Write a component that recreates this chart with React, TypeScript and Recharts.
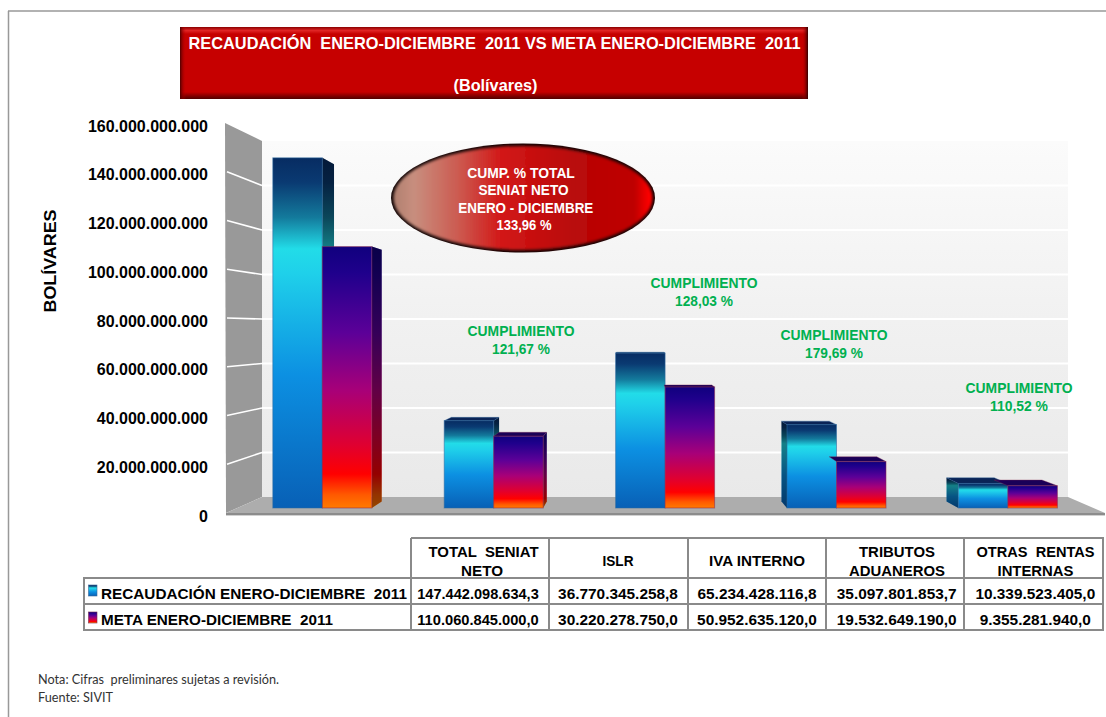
import React from 'react';
import { BarChart, Bar, XAxis, YAxis, CartesianGrid } from 'recharts';

const categories = ['TOTAL  SENIAT NETO', 'ISLR', 'IVA INTERNO', 'TRIBUTOS ADUANEROS', 'OTRAS  RENTAS INTERNAS'];
const recaudacion = [147442098634.3, 36770345258.8, 65234428116.8, 35097801853.7, 10339523405.0];
const meta = [110060845000.0, 30220278750.0, 50952635120.0, 19532649190.0, 9355281940.0];
const yTicks = [0, 20e9, 40e9, 60e9, 80e9, 100e9, 120e9, 140e9, 160e9];
const seriesNames = ['RECAUDACIÓN ENERO-DICIEMBRE  2011', 'META ENERO-DICIEMBRE  2011'];
const cumplimiento = ['121,67 %', '128,03 %', '179,69 %', '110,52 %'];
const titleLines = ['RECAUDACIÓN  ENERO-DICIEMBRE  2011 VS META ENERO-DICIEMBRE  2011', '(Bolívares)'];
const ovalLines = ['CUMP. % TOTAL', 'SENIAT NETO', 'ENERO - DICIEMBRE', '133,96 %'];
const notes = ['Nota: Cifras  preliminares sujetas a revisión.', 'Fuente: SIVIT'];

const data = categories.map((category, i) => ({ category, recaudacion: recaudacion[i], meta: meta[i] }));

const W = 1106;
const H = 717;
const SANS = '"Liberation Sans", Arial, sans-serif';
const VP = { x: 639, y: 330 };
const D = 0.037;
const PLOT_TOP = 128;
const PLOT_BOTTOM = 508;

const backPt = (x: number, y: number): [number, number] => [x + (VP.x - x) * D, y + (VP.y - y) * D];
const pts = (a: [number, number][]) => a.map((p) => p.join(',')).join(' ');
const wallBackY = (y: number) => 497 - ((PLOT_BOTTOM - y) * 356) / (PLOT_BOTTOM - PLOT_TOP);
const wallFrontY = (y: number) => 513 - ((PLOT_BOTTOM - y) * 390) / (PLOT_BOTTOM - PLOT_TOP);

const fmtAxis = (v: number) => String(Math.round(v)).replace(/\B(?=(\d{3})+(?!\d))/g, '.');
const fmtValue = (v: number) => {
  const [a, b] = v.toFixed(1).split('.');
  return a.replace(/\B(?=(\d{3})+(?!\d))/g, '.') + ',' + b;
};

const Bar3D = (grad: string, topFill: string, edge: string, first: boolean) => (props: any) => {
  const { x, y, width, height } = props;
  if (!height) return null;
  const r = x + width;
  const b = y + height;
  const side = (sx: number) => {
    const poly = pts([[sx, y], backPt(sx, y), backPt(sx, b), [sx, b]]);
    return (
      <g>
        <polygon points={poly} fill={`url(#${grad})`} />
        <polygon points={poly} fill="#000" fillOpacity={0.42} />
      </g>
    );
  };
  return (
    <g>
      {r < VP.x && side(r)}
      {first && x > VP.x && side(x)}
      {y > VP.y && <polygon points={pts([[x, y], [r, y], backPt(r, y), backPt(x, y)])} fill={topFill} stroke={edge} strokeOpacity={0.5} strokeWidth={0.7} />}
      <rect x={x} y={y} width={width} height={height} fill={`url(#${grad})`} stroke={edge} strokeOpacity={0.55} strokeWidth={1} />
    </g>
  );
};

const YTick = (props: any) => {
  const { y, payload } = props;
  return (
    <text x={208} y={wallFrontY(y) + 8.5} textAnchor="end" fontFamily={SANS} fontWeight="bold" fontSize={16} fill="#000">
      {fmtAxis(payload.value)}
    </text>
  );
};

const GridLine = (props: any) => {
  const { y1 } = props;
  if (Math.abs(y1 - PLOT_BOTTOM) < 1 || Math.abs(y1 - PLOT_TOP) < 1) return <g />;
  const by = wallBackY(y1);
  return (
    <g>
      <line x1={227} y1={wallFrontY(y1)} x2={262} y2={by} stroke="#fff" strokeWidth={1.6} />
      <line x1={262} y1={by} x2={1068} y2={by} stroke="#fff" strokeWidth={2} />
    </g>
  );
};

const T = ({ x, y, len, size = 15.4, anchor = 'middle', fill = '#000', weight = 'bold', family = SANS, children }: any) => (
  <text
    x={x}
    y={y}
    textAnchor={anchor}
    fontFamily={family}
    fontWeight={weight}
    fontSize={size}
    fill={fill}
    style={{ whiteSpace: 'pre' }}
    {...(len ? { textLength: len, lengthAdjust: 'spacingAndGlyphs' } : {})}
  >
    {children}
  </text>
);

const colLines = [411, 549, 688, 826, 964, 1103];
const colCenters = [478, 618, 757, 896.7, 1035.3];
const headerRows = [
  [{ t: 'TOTAL  SENIAT', x: 483.5, y: 557, len: 110 }, { t: 'NETO', x: 482, y: 575.5, len: 42 }],
  [{ t: 'ISLR', x: 618, y: 566, len: 31 }],
  [{ t: 'IVA INTERNO', x: 757, y: 566, len: 96 }],
  [{ t: 'TRIBUTOS', x: 897, y: 557, len: 76 }, { t: 'ADUANEROS', x: 897, y: 575.5, len: 96 }],
  [{ t: 'OTRAS  RENTAS', x: 1035.5, y: 557, len: 118 }, { t: 'INTERNAS', x: 1035.5, y: 575.5, len: 76 }],
];

const Table = () => (
  <g>
    <g stroke="#8A8A8A" strokeWidth={2}>
      <line x1={411} y1={538} x2={1104} y2={538} />
      <line x1={83} y1={578} x2={1104} y2={578} />
      <line x1={83} y1={604} x2={1104} y2={604} />
      <line x1={83} y1={630} x2={1104} y2={630} />
      <line x1={84} y1={578} x2={84} y2={630} />
      {colLines.map((x) => (
        <line key={x} x1={x} y1={538} x2={x} y2={630} />
      ))}
    </g>
    {headerRows.map((rows) =>
      rows.map((r) => (
        <T key={r.t} x={r.x} y={r.y} len={r.len} size={15}>
          {r.t}
        </T>
      )),
    )}
    <rect x={88.5} y={585} width={8.5} height={11} fill="url(#gRec)" stroke="#3a6a9a" strokeWidth={0.6} />
    <rect x={88.5} y={612} width={8.5} height={11} fill="url(#gMeta)" stroke="#7a2a50" strokeWidth={0.6} />
    <T x={101} y={598.5} anchor="start" len={306} size={15}>{seriesNames[0]}</T>
    <T x={101} y={625} anchor="start" len={232} size={15}>{seriesNames[1]}</T>
    {recaudacion.map((v, i) => (
      <T key={i} x={colCenters[i]} y={598.5} len={i === 0 ? 121.5 : undefined}>{fmtValue(v)}</T>
    ))}
    {meta.map((v, i) => (
      <T key={i} x={colCenters[i]} y={625} len={i === 0 ? 121.5 : undefined}>{fmtValue(v)}</T>
    ))}
  </g>
);

const Title = () => (
  <g>
    <rect x={180} y={27} width={628} height={72} fill="#C60000" />
    <rect x={180} y={27} width={628} height={7} fill="url(#gTitleTop)" />
    <rect x={180} y={92} width={628} height={7} fill="url(#gTitleBottom)" />
    <rect x={180} y={27} width={6} height={72} fill="url(#gTitleLeft)" />
    <rect x={802} y={27} width={6} height={72} fill="url(#gTitleRight)" />
    <T x={188.5} y={48.5} anchor="start" size={17} fill="#fff" len={612}>{titleLines[0]}</T>
    <T x={495.5} y={90.5} size={16.5} fill="#fff" len={84}>{titleLines[1]}</T>
  </g>
);

const ovalCenters = [521, 523.5, 525.8, 524];
const ovalWidths = [107.7, 90, 135, 55];

const Oval = () => (
  <g>
    <ellipse cx={523} cy={198} rx={132} ry={54.5} fill="#120505" />
    <ellipse cx={523} cy={198} rx={129.5} ry={52} fill="url(#gOval)" filter="url(#fSoft)" />
    {ovalLines.map((l, i) => (
      <T key={l} x={ovalCenters[i]} y={177.8 + i * 17.4} size={14.5} fill="#fff" len={ovalWidths[i]}>{l}</T>
    ))}
  </g>
);

const Callouts = () => (
  <g>
    {cumplimiento.map((c, i) => {
      const cx = [521, 704, 834, 1019][i];
      const cy = [336, 288, 340, 393][i];
      return (
        <g key={c}>
          <T x={cx} y={cy} size={14.5} fill="#00B050" len={107}>CUMPLIMIENTO</T>
          <T x={cx} y={cy + 18} size={14.5} fill="#00B050" len={58}>{c}</T>
        </g>
      );
    })}
  </g>
);

export default function App() {
  return (
    <div style={{ position: 'absolute', left: 0, top: 0, width: W, height: H, background: '#fff' }}>
      <svg width={W} height={H} style={{ position: 'absolute', left: 0, top: 0 }}>
        <defs>
          <linearGradient id="gWall" x1="0" y1="0" x2="0" y2="1">
            <stop offset="0" stopColor="#FBFBFB" />
            <stop offset="0.5" stopColor="#F1F1F1" />
            <stop offset="1" stopColor="#E9E9E9" />
          </linearGradient>
        </defs>
        <line x1={8.5} y1={11} x2={8.5} y2={H} stroke="#999" strokeWidth={1.5} />
        <line x1={8} y1={11} x2={W} y2={11} stroke="#999" strokeWidth={1.5} />
        <rect x={262} y={141} width={806} height={356} fill="url(#gWall)" />
        <polygon points="225,123 262,141 262,497 226,513" fill="#999999" />
        <polygon points="226,513 262,497 1068,497 1105,513" fill="#ADADAD" />
        <rect x={226} y={513} width={879} height={2.4} fill="#8C8C8C" />
      </svg>
      <div style={{ position: 'absolute', left: 0, top: 0 }}>
        <BarChart
          width={W}
          height={H}
          data={data}
          margin={{ top: PLOT_TOP, bottom: H - PLOT_BOTTOM, left: 0, right: 12.2 }}
          barCategoryGap={36.2}
          barGap={0}
        >
          <defs>
            <linearGradient id="gRec" x1="0" y1="0" x2="0" y2="1">
              <stop offset="0" stopColor="#072C62" />
              <stop offset="0.07" stopColor="#0A3A72" />
              <stop offset="0.17" stopColor="#137A9C" />
              <stop offset="0.26" stopColor="#22DCE8" />
              <stop offset="0.33" stopColor="#1FD0EA" />
              <stop offset="0.62" stopColor="#0C90E2" />
              <stop offset="1" stopColor="#0860B6" />
            </linearGradient>
            <linearGradient id="gMeta" x1="0" y1="0" x2="0" y2="1">
              <stop offset="0" stopColor="#10007E" />
              <stop offset="0.1" stopColor="#1F008C" />
              <stop offset="0.33" stopColor="#5C0098" />
              <stop offset="0.55" stopColor="#A80078" />
              <stop offset="0.76" stopColor="#E00030" />
              <stop offset="0.87" stopColor="#FF0000" />
              <stop offset="0.95" stopColor="#FF5A00" />
              <stop offset="1" stopColor="#FF7A00" />
            </linearGradient>
            <linearGradient id="gOval" x1="0" y1="0" x2="1" y2="0">
              <stop offset="0" stopColor="#B08070" />
              <stop offset="0.08" stopColor="#C88E7E" />
              <stop offset="0.25" stopColor="#CC5A50" />
              <stop offset="0.42" stopColor="#D21616" />
              <stop offset="0.7" stopColor="#B80808" />
              <stop offset="0.93" stopColor="#BE0000" />
              <stop offset="0.99" stopColor="#FF0000" />
              <stop offset="1" stopColor="#FF0000" />
            </linearGradient>
            <filter id="fSoft" x="-5%" y="-10%" width="110%" height="120%">
              <feGaussianBlur stdDeviation="1.6" />
            </filter>
            <linearGradient id="gTitleTop" x1="0" y1="0" x2="0" y2="1">
              <stop offset="0" stopColor="#8A0000" />
              <stop offset="0.5" stopColor="#E02424" />
              <stop offset="1" stopColor="#C60000" />
            </linearGradient>
            <linearGradient id="gTitleBottom" x1="0" y1="0" x2="0" y2="1">
              <stop offset="0" stopColor="#C60000" />
              <stop offset="1" stopColor="#500000" />
            </linearGradient>
            <linearGradient id="gTitleLeft" x1="0" y1="0" x2="1" y2="0">
              <stop offset="0" stopColor="#500000" />
              <stop offset="1" stopColor="#C60000" stopOpacity={0} />
            </linearGradient>
            <linearGradient id="gTitleRight" x1="0" y1="0" x2="1" y2="0">
              <stop offset="0" stopColor="#C60000" stopOpacity={0} />
              <stop offset="1" stopColor="#300000" />
            </linearGradient>
          </defs>

          <XAxis dataKey="category" hide />
          <YAxis
            width={236.8}
            domain={[0, 160e9]}
            ticks={yTicks}
            interval={0}
            axisLine={false}
            tickLine={false}
            tick={<YTick />}
            label={{
              value: 'BOLÍVARES',
              content: () => (
                <text
                  transform="translate(55.5,261) rotate(-90)"
                  textAnchor="middle"
                  fontFamily={SANS}
                  fontWeight="bold"
                  fontSize={16.5}
                  textLength={103}
                  lengthAdjust="spacingAndGlyphs"
                  fill="#000"
                >
                  BOLÍVARES
                </text>
              ),
            }}
          />
          <CartesianGrid vertical={false} horizontal={(p: any) => <GridLine {...p} />} />

          <Bar dataKey="recaudacion" barSize={49.5} isAnimationActive={false} shape={Bar3D('gRec', '#0A2456', '#2E6AA0', true)} />
          <Bar dataKey="meta" barSize={49.5} isAnimationActive={false} shape={Bar3D('gMeta', '#1A0058', '#8A2A50', false)} />

          <Title />
          <Oval />
          <Callouts />
          <Table />
          <T x={38} y={684} anchor="start" size={12.5} weight="normal" family="Lato, sans-serif" fill="#333" len={241}>{notes[0]}</T>
          <T x={38} y={702} anchor="start" size={12.5} weight="normal" family="Lato, sans-serif" fill="#333" len={75}>{notes[1]}</T>
        </BarChart>
      </div>
    </div>
  );
}
